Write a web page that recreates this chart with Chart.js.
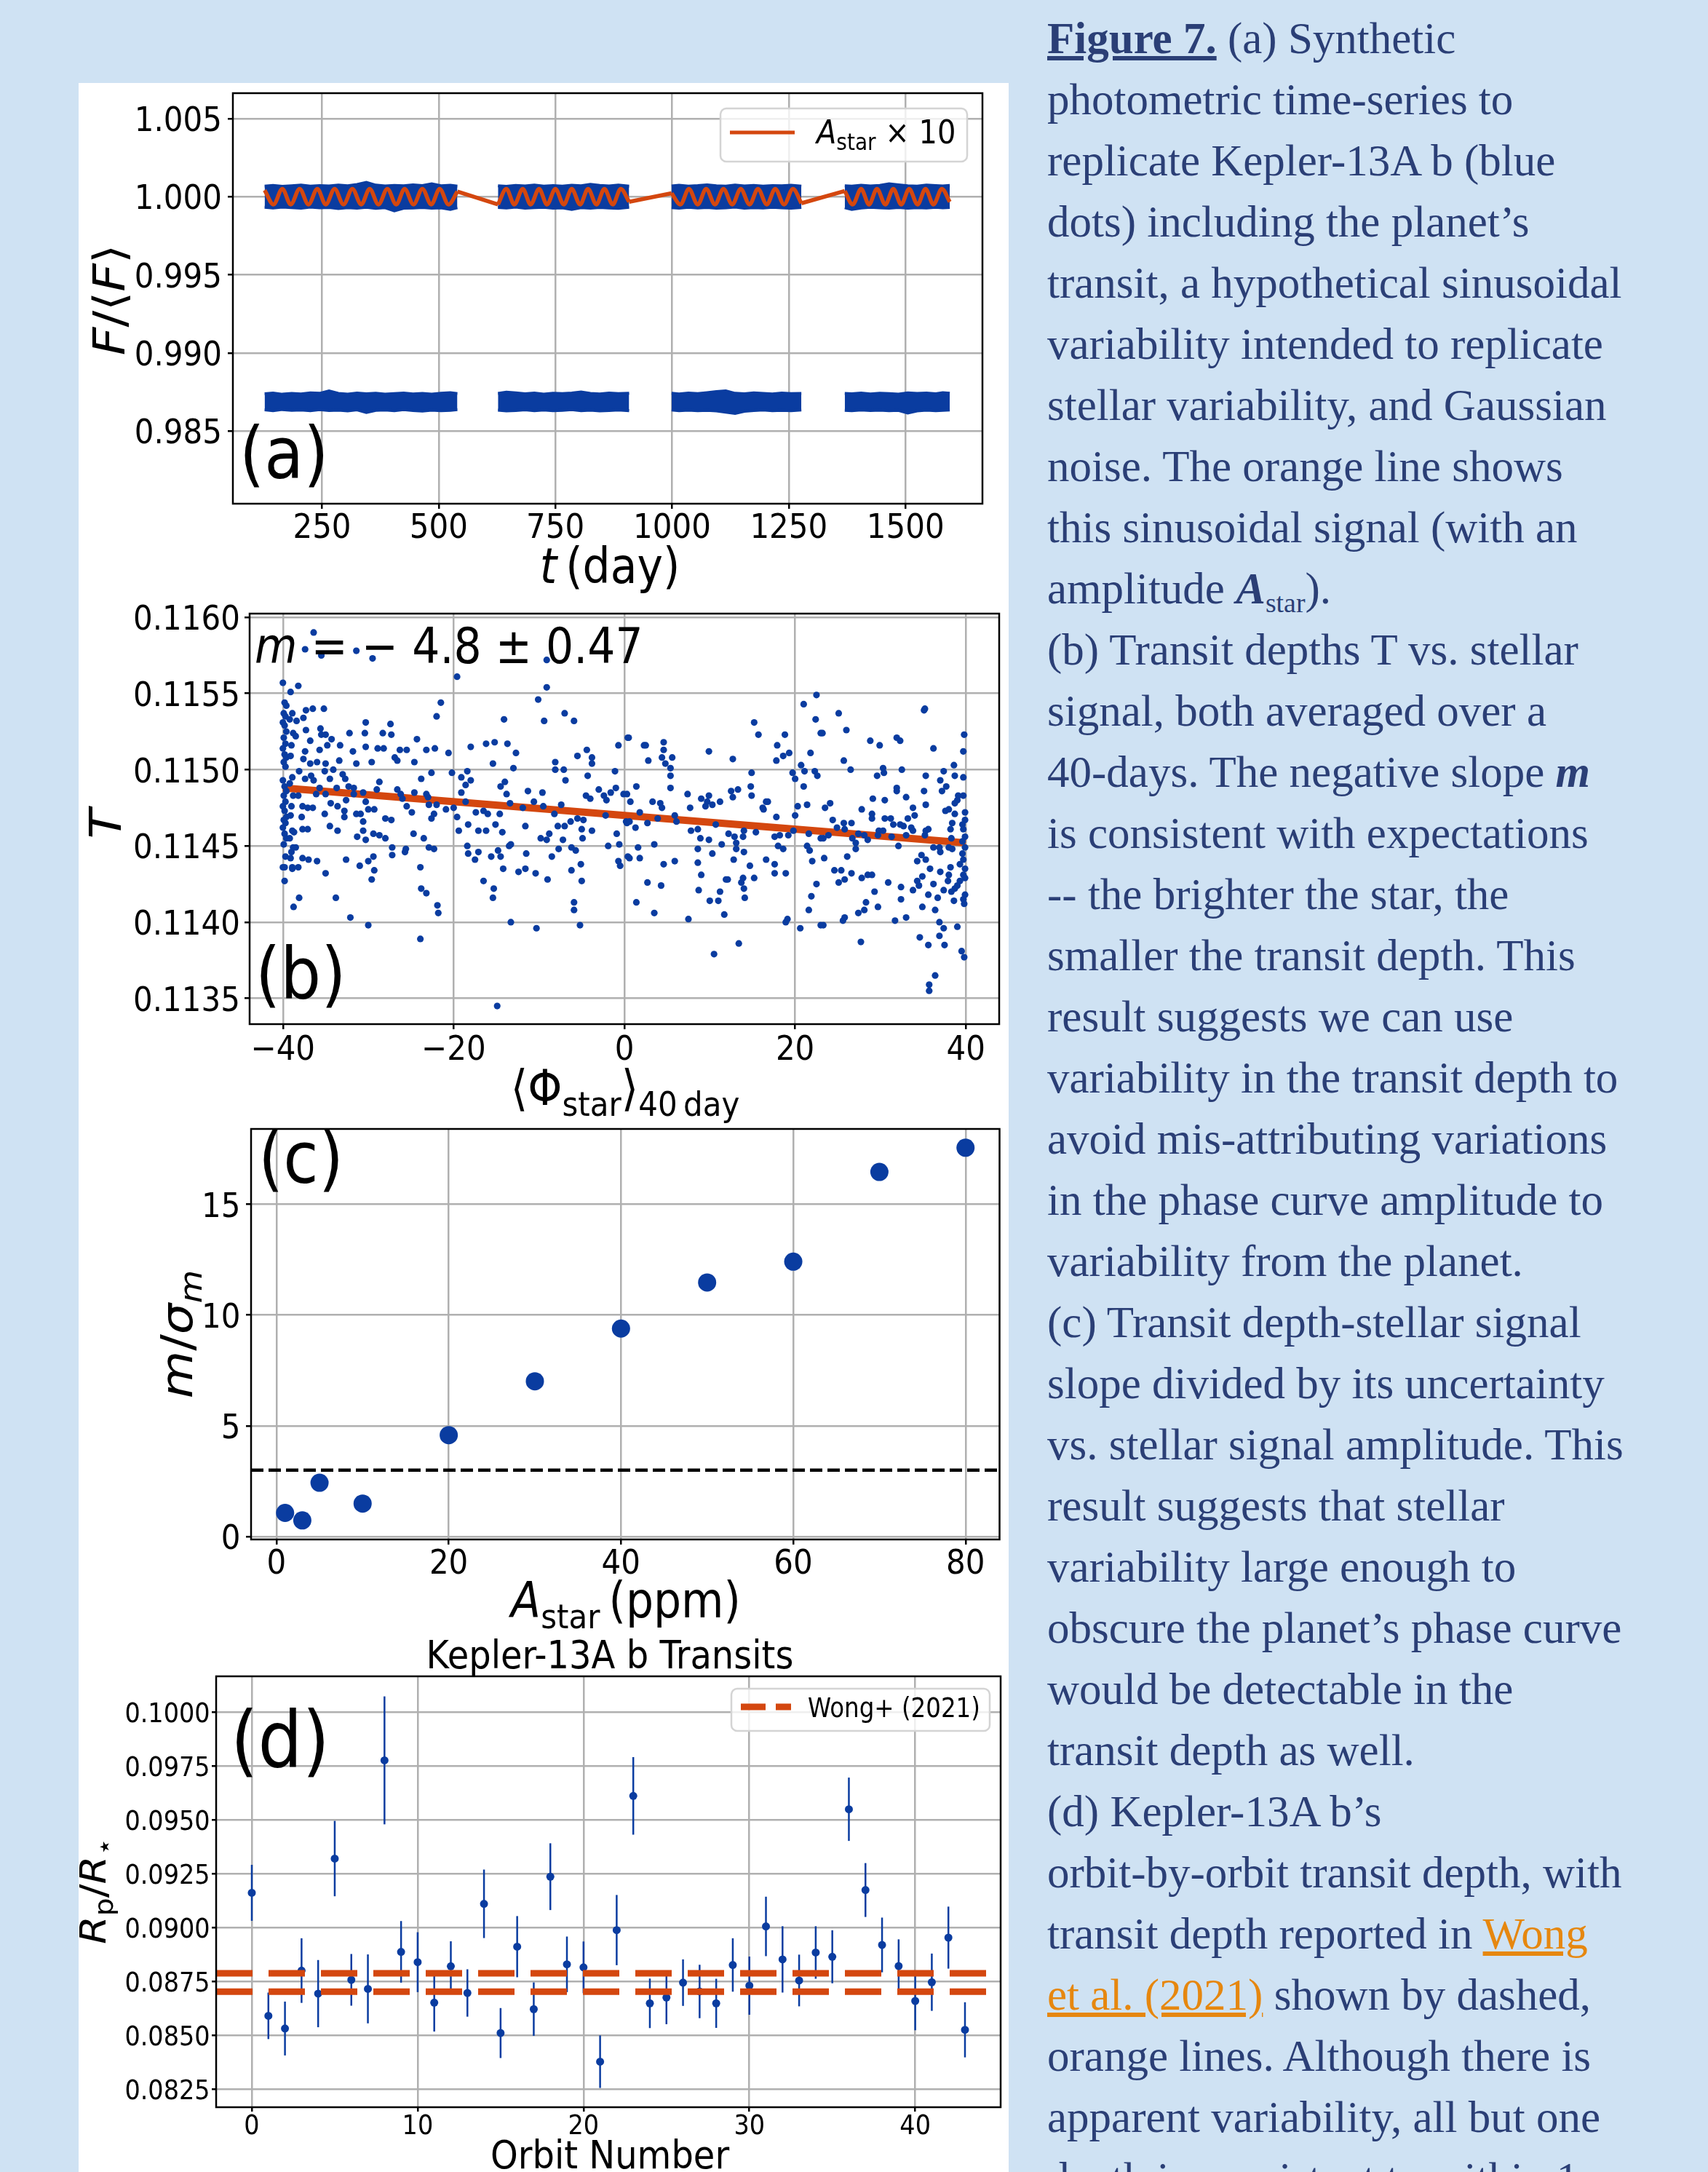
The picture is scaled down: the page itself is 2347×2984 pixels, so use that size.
<!DOCTYPE html>
<html>
<head>
<meta charset="utf-8">
<script src="https://cdn.jsdelivr.net/npm/chart.js@4.4.1/dist/chart.umd.min.js"></script>
<style>
  html, body { margin: 0; padding: 0; }
  body { width: 2347px; height: 2984px; overflow: hidden; background: #cfe2f3; position: relative; }
  #sheet { position: absolute; left: 108px; top: 114px; width: 1278px; height: 2870px; background: #fff; }
  canvas { position: absolute; }
  #caption { position: absolute; left: 1439px; top: 11px; font-family: 'Liberation Serif', 'Times New Roman', serif;
    font-size: 61px; line-height: 84px; color: #2b3f76; white-space: nowrap; }
  #caption .fig { font-weight: bold; text-decoration: underline; }
  #caption .sub { font-size: 0.62em; vertical-align: -0.32em; line-height: 0; }
  #caption .lnk { color: #e6870f; text-decoration: underline; }
</style>
</head>
<body>
<div id="sheet"></div>
<canvas id="panelA" width="1278" height="770" style="left:108px;top:60px"></canvas>
<canvas id="panelB" width="1278" height="760" style="left:108px;top:800px"></canvas>
<canvas id="panelC" width="1278" height="745" style="left:108px;top:1500px"></canvas>
<canvas id="panelD" width="1278" height="754" style="left:108px;top:2230px"></canvas>
<div id="caption"><span class="fig">Figure 7.</span> (a) Synthetic<br>photometric time-series to<br>replicate Kepler-13A b (blue<br>dots) including the planet’s<br>transit, a hypothetical sinusoidal<br>variability intended to replicate<br>stellar variability, and Gaussian<br>noise. The orange line shows<br>this sinusoidal signal (with an<br>amplitude <b><i>A</i></b><span class="sub">star</span>).<br>(b) Transit depths T vs. stellar<br>signal, both averaged over a<br>40-days. The negative slope <b><i>m</i></b><br>is consistent with expectations<br>-- the brighter the star, the<br>smaller the transit depth. This<br>result suggests we can use<br>variability in the transit depth to<br>avoid mis-attributing variations<br>in the phase curve amplitude to<br>variability from the planet.<br>(c) Transit depth-stellar signal<br>slope divided by its uncertainty<br>vs. stellar signal amplitude. This<br>result suggests that stellar<br>variability large enough to<br>obscure the planet’s phase curve<br>would be detectable in the<br>transit depth as well.<br>(d) Kepler-13A b’s<br>orbit-by-orbit transit depth, with<br>transit depth reported in <span class="lnk">Wong</span><br><span class="lnk">et al. (2021)</span> shown by dashed,<br>orange lines. Although there is<br>apparent variability, all but one<br>depth is consistent to within 1</div>
<script>
// ---------- (a) synthetic light curve ----------
// observing segments (days) and the edges of the blue photometry band
const segTimes = [
  [127, 145, 165, 185, 205, 225, 245, 265, 285, 305, 325, 345, 365, 385, 405, 425, 445, 465, 485, 505, 525, 540],
  [627, 645, 665, 685, 705, 725, 745, 765, 785, 805, 825, 845, 865, 885, 908],
  [999, 1015, 1035, 1055, 1075, 1095, 1115, 1135, 1155, 1175, 1195, 1215, 1235, 1255, 1277],
  [1370, 1385, 1405, 1425, 1445, 1465, 1485, 1505, 1525, 1545, 1565, 1580, 1595]
];
const fluxTop = [
  [1.00068, 1.00072, 1.00066, 1.00070, 1.00074, 1.00068, 1.00071, 1.00069, 1.00075, 1.00070, 1.00078, 1.00092, 1.00074, 1.00069, 1.00072, 1.00070, 1.00076, 1.00071, 1.00082, 1.00070, 1.00073, 1.00068],
  [1.00070, 1.00066, 1.00072, 1.00069, 1.00075, 1.00068, 1.00071, 1.00067, 1.00073, 1.00070, 1.00079, 1.00072, 1.00069, 1.00074, 1.00068],
  [1.00069, 1.00073, 1.00068, 1.00071, 1.00076, 1.00070, 1.00068, 1.00074, 1.00069, 1.00072, 1.00067, 1.00071, 1.00070, 1.00073, 1.00068],
  [1.00070, 1.00068, 1.00073, 1.00069, 1.00072, 1.00083, 1.00076, 1.00070, 1.00068, 1.00074, 1.00071, 1.00069, 1.00072]
];
const fluxBottom = [
  [0.99932, 0.99928, 0.99934, 0.99930, 0.99926, 0.99933, 0.99929, 0.99931, 0.99924, 0.99930, 0.99927, 0.99932, 0.99925, 0.99930, 0.99910, 0.99926, 0.99928, 0.99931, 0.99926, 0.99929, 0.99918, 0.99930],
  [0.99931, 0.99928, 0.99933, 0.99926, 0.99930, 0.99932, 0.99927, 0.99929, 0.99919, 0.99930, 0.99926, 0.99931, 0.99928, 0.99925, 0.99932],
  [0.99930, 0.99927, 0.99932, 0.99928, 0.99931, 0.99926, 0.99929, 0.99933, 0.99927, 0.99930, 0.99928, 0.99932, 0.99929, 0.99926, 0.99931],
  [0.99930, 0.99918, 0.99928, 0.99932, 0.99929, 0.99927, 0.99931, 0.99926, 0.99930, 0.99928, 0.99932, 0.99929, 0.99931]
];
const transitTop = [
  [0.98738, 0.98742, 0.98735, 0.98740, 0.98737, 0.98744, 0.98741, 0.98756, 0.98740, 0.98736, 0.98743, 0.98738, 0.98741, 0.98735, 0.98739, 0.98742, 0.98737, 0.98740, 0.98736, 0.98741, 0.98745, 0.98739],
  [0.98740, 0.98748, 0.98744, 0.98738, 0.98742, 0.98736, 0.98741, 0.98739, 0.98743, 0.98749, 0.98740, 0.98737, 0.98742, 0.98739, 0.98741],
  [0.98741, 0.98737, 0.98743, 0.98739, 0.98745, 0.98752, 0.98756, 0.98741, 0.98738, 0.98744, 0.98740, 0.98737, 0.98742, 0.98739, 0.98740],
  [0.98740, 0.98738, 0.98742, 0.98737, 0.98741, 0.98739, 0.98736, 0.98744, 0.98740, 0.98743, 0.98738, 0.98745, 0.98741]
];
const transitBottom = [
  [0.98635, 0.98630, 0.98637, 0.98632, 0.98634, 0.98629, 0.98636, 0.98631, 0.98633, 0.98628, 0.98635, 0.98618, 0.98632, 0.98634, 0.98630, 0.98636, 0.98631, 0.98627, 0.98633, 0.98630, 0.98632, 0.98636],
  [0.98633, 0.98628, 0.98631, 0.98635, 0.98630, 0.98634, 0.98629, 0.98632, 0.98636, 0.98630, 0.98633, 0.98628, 0.98631, 0.98634, 0.98630],
  [0.98634, 0.98630, 0.98633, 0.98629, 0.98632, 0.98628, 0.98620, 0.98612, 0.98626, 0.98631, 0.98634, 0.98629, 0.98632, 0.98630, 0.98634],
  [0.98632, 0.98630, 0.98634, 0.98631, 0.98633, 0.98629, 0.98632, 0.98615, 0.98628, 0.98633, 0.98630, 0.98632, 0.98634]
];
// turning points of the A_star x 10 sinusoid
const sineTimes = [
  [127, 146, 165, 183, 202, 221, 240, 258, 277, 296, 315, 334, 352, 371, 390, 409, 427, 446, 465, 484, 502, 521, 540],
  [627, 645, 662, 680, 697, 715, 732, 750, 768, 785, 803, 820, 838, 855, 873, 890, 908],
  [999, 1018, 1036, 1055, 1073, 1092, 1110, 1129, 1147, 1166, 1184, 1203, 1221, 1240, 1259, 1277],
  [1370, 1387, 1405, 1422, 1439, 1457, 1474, 1491, 1508, 1526, 1543, 1560, 1578, 1595]
];
const sineFlux = [
  [1.00042, 0.99950, 1.00050, 0.99950, 1.00050, 0.99950, 1.00050, 0.99950, 1.00050, 0.99950, 1.00050, 0.99950,
   1.00050, 0.99950, 1.00050, 0.99950, 1.00050, 0.99950, 1.00050, 0.99950, 1.00050, 0.99950, 1.00033],
  [0.99950, 1.00050, 0.99950, 1.00050, 0.99950, 1.00050, 0.99950, 1.00050, 0.99950, 1.00050, 0.99950, 1.00050,
   0.99950, 1.00050, 0.99950, 1.00050, 0.99967],
  [1.00022, 0.99950, 1.00050, 0.99950, 1.00050, 0.99950, 1.00050, 0.99950, 1.00050, 0.99950, 1.00050, 0.99950,
   1.00050, 0.99950, 1.00050, 0.99958],
  [1.00037, 0.99950, 1.00050, 0.99950, 1.00050, 0.99950, 1.00050, 0.99950, 1.00050, 0.99950, 1.00050, 0.99950,
   1.00050, 0.99967]
];
const timeRange = [59, 1665];
const fluxRange = [0.98034, 1.00663];
const timeTicks = [250, 500, 750, 1000, 1250, 1500];
const fluxTicks = [0.985, 0.990, 0.995, 1.000, 1.005];

// ---------- (b) transit depth vs 40-day mean stellar signal: [phi, T] ----------
const depthVsPhi = [
  [-40.0,.11557],[-39.8,.11544],[-39.6,.11542],[-39.9,.11537],[-39.7,.11535],[-40.0,.11531],[-39.8,.11529],[-39.6,.11525],
  [-39.9,.11521],[-39.7,.11517],[-40.0,.11514],[-39.8,.11510],[-39.6,.11508],[-39.9,.11505],[-39.7,.11502],[-40.0,.11493],
  [-39.8,.11489],[-39.6,.11486],[-39.9,.11483],[-39.7,.11479],[-40.0,.11476],[-39.8,.11473],[-39.6,.11469],[-39.9,.11467],
  [-39.7,.11465],[-40.0,.11462],[-39.8,.11458],[-39.6,.11455],[-39.9,.11451],[-39.7,.11443],[-40.0,.11436],[-39.8,.11427],
  [-39.1,.11551],[-38.9,.11537],[-39.2,.11533],[-38.8,.11524],[-39.0,.11516],[-39.1,.11509],[-38.9,.11495],[-39.2,.11491],
  [-38.8,.11483],[-39.0,.11476],[-39.1,.11470],[-38.9,.11460],[-39.2,.11455],[-38.8,.11449],[-39.0,.11446],[-39.1,.11442],
  [-38.9,.11435],[-38.75,.11410],
  [-36.4,.11590],[-37.4,.11579],[-35.5,.11575],[-31.4,.11578],[-29.5,.11573],
  [-38.2,.11555],[-37.3,.11539],[-36.5,.11540],[-35.2,.11540],[-37.6,.11534],[-38.4,.11532],[-38.5,.11522],[-37.3,.11526],
  [-36.8,.11519],[-35.6,.11527],[-35.5,.11523],[-35.0,.11523],[-34.3,.11520],[-34.8,.11516],[-35.7,.11513],[-37.4,.11512],
  [-37.6,.11507],[-36.8,.11504],[-36.0,.11505],[-35.0,.11504],[-34.1,.11500],[-33.4,.11506],[-33.3,.11516],[-32.2,.11524],
  [-31.8,.11512],[-31.4,.11504],[-30.3,.11531],[-30.4,.11524],[-30.3,.11515],[-29.6,.11505],[-28.9,.11514],[-28.3,.11524],
  [-28.2,.11514],[-27.4,.11530],[-27.3,.11523],[-26.9,.11508],[-26.3,.11513],[-26.6,.11506],[-25.5,.11513],[-24.6,.11505],
  [-24.3,.11520],[-23.2,.11513],[-22.2,.11514],[-22.0,.11535],[-21.5,.11544],[-22.6,.11498],[-23.8,.11494],[-38.1,.11499],
  [-37.4,.11494],[-36.7,.11496],[-36.4,.11493],[-35.1,.11499],[-34.5,.11494],[-33.0,.11497],[-32.7,.11494],[-32.3,.11489],
  [-31.7,.11488],[-30.6,.11485],[-30.3,.11479],[-29.0,.11487],[-28.7,.11492],[-26.6,.11487],[-26.2,.11484],[-26.0,.11481],
  [-24.6,.11485],[-23.2,.11484],[-23.0,.11482],[-22.0,.11477],[-38.2,.11483],[-37.7,.11476],[-37.1,.11475],[-36.5,.11475],
  [-36.1,.11484],[-35.7,.11488],[-35.0,.11484],[-34.4,.11478],[-33.7,.11488],[-33.6,.11476],[-32.8,.11473],[-32.6,.11480],
  [-31.7,.11484],[-31.4,.11471],[-30.9,.11471],[-30.6,.11466],[-30.0,.11474],[-29.3,.11474],[-28.0,.11468],[-27.3,.11467],
  [-25.5,.11476],[-24.9,.11472],[-22.9,.11477],[-22.6,.11468],[-22.3,.11471],[-37.8,.11469],[-37.7,.11461],[-37.1,.11461],
  [-38.7,.11459],[-35.1,.11471],[-34.5,.11463],[-33.6,.11460],[-32.8,.11469],[-31.3,.11456],[-30.6,.11460],[-30.3,.11454],
  [-29.4,.11458],[-28.7,.11457],[-28.0,.11455],[-27.2,.11449],[-27.2,.11444],[-25.6,.11448],[-25.7,.11446],[-24.7,.11458],
  [-23.5,.11455],[-22.9,.11449],[-22.3,.11448],[-38.5,.11449],[-37.7,.11442],[-37.0,.11441],[-36.0,.11440],[-32.6,.11441],
  [-31.0,.11437],[-30.0,.11440],[-29.4,.11443],[-29.3,.11434],[-29.6,.11428],[-35.0,.11432],[-23.9,.11436],[-23.8,.11422],
  [-23.2,.11419],[-21.9,.11411],[-21.8,.11406],[-33.8,.11416],[-38.1,.11416],[-32.1,.11403],[-30.0,.11398],[-23.9,.11389],
  [-39.8,.11436],[-38.9,.11436],[-38.2,.11436],
  [-9.1,.11572],[-19.6,.11561],[-9.1,.11554],[-10.1,.11546],[-7.0,.11537],[-14.1,.11533],[-9.4,.11532],[-5.9,.11532],
  [-20.6,.11511],[-18.0,.11515],[-16.2,.11517],[-15.2,.11518],[-13.7,.11517],[-12.7,.11511],[-15.4,.11504],[-13.0,.11501],
  [-20.2,.11498],[-19.1,.11495],[-18.4,.11499],[-18.0,.11493],[-18.6,.11490],[-19.1,.11485],[-18.6,.11479],[-20.0,.11475],
  [-20.9,.11474],[-19.6,.11469],[-19.4,.11460],[-18.3,.11464],[-17.4,.11472],[-16.5,.11473],[-16.0,.11471],[-17.1,.11460],
  [-16.2,.11460],[-15.1,.11464],[-14.6,.11471],[-14.3,.11459],[-14.0,.11492],[-14.5,.11489],[-13.8,.11484],[-13.4,.11478],
  [-11.9,.11475],[-11.3,.11486],[-10.6,.11479],[-9.6,.11485],[-9.5,.11476],[-8.2,.11471],[-7.4,.11477],[-8.1,.11505],
  [-8.1,.11500],[-7.1,.11500],[-6.9,.11493],[-5.5,.11509],[-4.4,.11513],[-3.8,.11508],[-3.8,.11504],[-4.3,.11496],
  [-4.5,.11483],[-4.0,.11481],[-3.0,.11487],[-2.4,.11483],[-2.1,.11480],[-1.6,.11485],[-1.1,.11499],[-1.0,.11488],
  [-0.7,.11516],[0.4,.11521],[-0.1,.11484],[-2.2,.11470],[-5.5,.11468],[-4.8,.11467],[-6.3,.11466],[-7.0,.11463],
  [-7.8,.11463],[-7.2,.11454],[-11.6,.11463],[-9.8,.11455],[-9.1,.11454],[-8.8,.11458],[-5.0,.11461],[-4.9,.11455],
  [-3.8,.11460],[-0.9,.11458],[-0.6,.11451],[-1.9,.11450],[0.2,.11466],[-13.5,.11450],[-13.3,.11451],[-18.4,.11450],
  [-18.3,.11445],[-17.5,.11441],[-17.1,.11446],[-15.6,.11443],[-14.8,.11447],[-14.5,.11443],[-11.5,.11445],[-8.5,.11443],
  [-7.7,.11448],[-6.2,.11449],[-5.7,.11447],[-5.1,.11438],[-6.2,.11434],[-5.0,.11427],[-9.0,.11428],[-10.4,.11432],
  [-11.6,.11435],[-12.4,.11433],[-14.2,.11435],[-16.5,.11427],[-15.3,.11422],[-15.4,.11416],[-13.3,.11400],[-10.3,.11396],
  [-5.9,.11413],[-5.9,.11408],[-5.2,.11398],[-0.7,.11440],[-0.5,.11437],[-14.9,.11345],
  [0.5,.11521],[2.3,.11516],[2.5,.11516],[2.8,.11506],[4.6,.11518],[4.6,.11513],[4.4,.11508],[4.8,.11504],
  [5.6,.11508],[5.4,.11501],[5.4,.11496],[5.4,.11488],[1.4,.11489],[0.3,.11484],[0.7,.11479],[0.3,.11465],
  [0.6,.11466],[1.3,.11462],[1.8,.11472],[2.7,.11465],[3.3,.11479],[4.2,.11478],[4.4,.11475],[3.9,.11468],
  [5.9,.11470],[6.1,.11466],[7.4,.11484],[7.7,.11475],[9.9,.11512],[12.7,.11507],[15.2,.11531],[15.7,.11523],
  [14.9,.11498],[14.8,.11489],[14.9,.11483],[12.5,.11486],[12.7,.11482],[13.3,.11487],[11.2,.11479],[9.9,.11483],
  [9.7,.11479],[9.0,.11481],[9.5,.11476],[10.3,.11477],[7.8,.11460],[8.6,.11461],[10.7,.11464],[8.9,.11455],
  [9.9,.11454],[12.2,.11458],[12.9,.11456],[13.9,.11456],[14.0,.11460],[15.4,.11459],[16.2,.11475],[16.8,.11479],
  [17.8,.11469],[17.6,.11456],[18.2,.11457],[18.0,.11450],[18.6,.11448],[19.2,.11457],[19.8,.11460],[20.0,.11470],
  [20.3,.11476],[21.4,.11477],[21.0,.11489],[20.7,.11503],[21.1,.11499],[19.7,.11498],[20.0,.11494],[22.3,.11499],
  [22.6,.11496],[21.8,.11511],[22.4,.11533],[21.0,.11543],[22.5,.11549],[23.0,.11524],[17.9,.11516],[18.8,.11523],
  [17.8,.11506],[18.6,.11509],[19.3,.11511],[21.6,.11458],[21.4,.11450],[21.7,.11447],[22.0,.11440],[23.0,.11455],
  [16.6,.11441],[17.6,.11438],[17.6,.11432],[18.9,.11432],[14.7,.11437],[15.2,.11429],[14.0,.11446],[13.1,.11452],
  [12.8,.11441],[13.1,.11448],[11.4,.11451],[10.3,.11445],[8.6,.11448],[8.6,.11439],[9.0,.11431],[8.7,.11421],
  [10.0,.11414],[11.0,.11414],[11.2,.11420],[11.7,.11405],[11.9,.11428],[12.1,.11428],[13.7,.11426],[13.9,.11429],
  [14.0,.11422],[14.1,.11416],[13.4,.11386],[10.5,.11379],[7.5,.11402],[19.1,.11402],[18.9,.11400],[20.6,.11396],
  [21.6,.11408],[21.9,.11417],[22.5,.11425],[23.0,.11398],[5.9,.11440],[4.6,.11438],[3.5,.11451],[1.8,.11442],
  [1.6,.11449],[0.6,.11442],[0.4,.11443],[2.7,.11426],[4.3,.11424],[1.4,.11413],[3.5,.11406],[16.6,.11479],[16.3,.11474],
  [23.2,.11524],[25.1,.11537],[26.0,.11526],[25.7,.11506],[26.5,.11500],[28.8,.11519],[29.9,.11516],[31.9,.11521],
  [32.3,.11519],[35.1,.11539],[35.2,.11540],[36.2,.11514],[39.8,.11523],[39.7,.11512],[38.6,.11503],[38.7,.11496],
  [39.7,.11495],[37.4,.11499],[37.0,.11493],[37.7,.11489],[37.2,.11486],[35.3,.11496],[35.1,.11486],[35.3,.11477],
  [32.5,.11500],[30.3,.11501],[29.6,.11496],[30.4,.11498],[31.9,.11486],[31.9,.11488],[33.0,.11482],[29.1,.11481],
  [30.5,.11480],[33.8,.11475],[34.0,.11470],[33.2,.11468],[32.3,.11464],[32.7,.11463],[33.6,.11462],[33.8,.11460],
  [31.5,.11464],[30.5,.11468],[31.2,.11468],[29.0,.11471],[29.0,.11468],[27.8,.11474],[29.8,.11460],[30.3,.11460],
  [29.7,.11457],[31.3,.11456],[28.1,.11457],[28.5,.11454],[26.6,.11465],[25.7,.11465],[25.8,.11461],[26.7,.11455],
  [27.1,.11452],[27.1,.11448],[27.4,.11458],[24.9,.11462],[24.4,.11467],[24.1,.11478],[23.5,.11475],[23.9,.11457],
  [23.3,.11455],[33.0,.11457],[32.1,.11450],[35.2,.11457],[35.3,.11460],[35.6,.11461],[36.2,.11449],[36.9,.11449],
  [37.0,.11446],[38.0,.11449],[38.4,.11448],[38.3,.11455],[38.2,.11461],[38.4,.11465],[38.7,.11471],[38.0,.11474],
  [37.6,.11473],[39.0,.11480],[38.7,.11478],[39.1,.11483],[39.7,.11483],[39.9,.11472],[39.9,.11467],[39.6,.11464],
  [39.7,.11461],[39.9,.11456],[39.6,.11453],[39.9,.11449],[39.6,.11445],[39.7,.11441],[39.3,.11438],[39.9,.11435],
  [39.7,.11431],[39.9,.11429],[39.3,.11427],[39.0,.11424],[38.7,.11422],[39.9,.11418],[39.7,.11415],[39.8,.11412],
  [38.6,.11414],[38.3,.11420],[37.4,.11421],[37.9,.11427],[38.0,.11431],[38.2,.11436],[37.0,.11433],[36.2,.11425],
  [35.8,.11435],[35.3,.11441],[34.3,.11440],[34.8,.11444],[34.9,.11430],[34.3,.11427],[34.5,.11424],[33.8,.11421],
  [35.6,.11418],[36.7,.11416],[36.4,.11408],[34.9,.11410],[32.4,.11423],[32.4,.11415],[33.0,.11403],[31.7,.11401],
  [30.9,.11426],[29.3,.11420],[29.7,.11410],[28.5,.11431],[29.0,.11431],[27.8,.11429],[28.3,.11413],[28.1,.11408],
  [27.4,.11406],[26.6,.11432],[25.8,.11428],[25.1,.11426],[24.6,.11434],[25.4,.11434],[26.1,.11443],[23.4,.11442],
  [23.3,.11398],[25.6,.11401],[25.8,.11403],[27.7,.11387],[34.6,.11390],[35.6,.11385],[36.9,.11400],[37.4,.11396],
  [36.9,.11391],[37.5,.11385],[39.0,.11397],[39.5,.11381],[39.8,.11377],[36.4,.11365],[35.7,.11359],[35.7,.11355]
];
const fitPhi = [-40, 40];
const fitDepth = [0.11488, 0.11452];
const phiRange = [-43.9, 43.9];
const depthRange = [0.113331, 0.116024];
const phiTicks = [-40, -20, 0, 20, 40];
const depthTicks = [0.1135, 0.1140, 0.1145, 0.1150, 0.1155, 0.1160];

// ---------- (c) slope significance vs stellar amplitude ----------
const ampStar = [1, 3, 5, 10, 20, 30, 40, 50, 60, 70, 80];
const slopeSignif = [1.07, 0.73, 2.43, 1.49, 4.58, 7.01, 9.39, 11.47, 12.41, 16.46, 17.55];
const signifLimit = 3;
const ampRange = [-2.95, 83.95];
const signifRange = [-0.13, 18.4];
const ampTicks = [0, 20, 40, 60, 80];
const signifTicks = [0, 5, 10, 15];

// ---------- (d) Kepler-13A b orbit-by-orbit Rp/R* ----------
const orbitNumber = [0, 1, 2, 3, 4, 5, 6, 7, 8, 9, 10, 11, 12, 13, 14, 15, 16, 17, 18, 19, 20, 21,
  22, 23, 24, 25, 26, 27, 28, 29, 30, 31, 32, 33, 34, 35, 36, 37, 38, 39, 40, 41, 42, 43];
const rpRatio = [0.09162, 0.08591, 0.08532, 0.08801, 0.08694, 0.09321, 0.08758, 0.08716, 0.09777, 0.08888, 0.08840,
  0.08652, 0.08821, 0.08697, 0.09111, 0.08511, 0.08912, 0.08622, 0.09237, 0.08830, 0.08816, 0.08378,
  0.08989, 0.09612, 0.08649, 0.08676, 0.08745, 0.08704, 0.08649, 0.08827, 0.08731, 0.09006, 0.08853,
  0.08755, 0.08885, 0.08865, 0.09550, 0.09175, 0.08920, 0.08822, 0.08660, 0.08747, 0.08954, 0.08526];
const rpError = [0.00130, 0.00108, 0.00125, 0.00150, 0.00156, 0.00175, 0.00120, 0.00160, 0.00297, 0.00143, 0.00139,
  0.00134, 0.00116, 0.00110, 0.00159, 0.00116, 0.00142, 0.00124, 0.00155, 0.00129, 0.00120, 0.00122,
  0.00163, 0.00180, 0.00115, 0.00124, 0.00108, 0.00124, 0.00114, 0.00124, 0.00135, 0.00138, 0.00154,
  0.00120, 0.00122, 0.00123, 0.00147, 0.00125, 0.00127, 0.00124, 0.00136, 0.00133, 0.00144, 0.00128];
const wongDepth = [0.08788, 0.08703];
const orbitRange = [-2.15, 45.15];
const rpRange = [0.081666, 0.101672];
const orbitTicks = [0, 10, 20, 30, 40];
const rpTicks = [0.0825, 0.0850, 0.0875, 0.0900, 0.0925, 0.0950, 0.0975, 0.1000];

// ---------- styling helpers ----------
const BLUE = '#0a3ca0';
const ORANGE = '#d4470f';
const GRID = '#b0b0b0';
const SANS = "'DejaVu Sans', sans-serif";
const MINUS = '\u2212';
const TEXT_SY = 1.12; // the source figure is slightly stretched vertically

const it = (t, s, dy) => ({ t, s, i: true, dy: dy || 0 });
const rm = (t, s, dy) => ({ t, s, i: false, dy: dy || 0 });
const signed = v => (v < 0 ? MINUS + Math.abs(v) : String(v));

function fontOf(p) { return (p.i ? 'italic ' : '') + p.s + 'px ' + SANS; }

function drawRich(ctx, parts, x, y, align, sx, sy) {
  const widths = parts.map(p => { ctx.font = fontOf(p); return ctx.measureText(p.t).width; });
  const total = widths.reduce((a, b) => a + b, 0);
  ctx.save();
  ctx.translate(x, y);
  ctx.scale(sx || 1, sy || 1);
  let cx = align === 'center' ? -total / 2 : (align === 'right' ? -total : 0);
  ctx.textAlign = 'left';
  ctx.textBaseline = 'alphabetic';
  parts.forEach((p, k) => { ctx.font = fontOf(p); ctx.fillText(p.t, cx, p.dy); cx += widths[k]; });
  ctx.restore();
}

function drawLegend(ctx, lg, off) {
  const x0 = lg.box[0] - off[0], y0 = lg.box[1] - off[1];
  const w = lg.box[2] - lg.box[0], h = lg.box[3] - lg.box[1];
  ctx.save();
  ctx.beginPath();
  ctx.roundRect(x0, y0, w, h, 8);
  ctx.fillStyle = 'rgba(255,255,255,0.8)';
  ctx.fill();
  ctx.strokeStyle = '#d4d4d4';
  ctx.lineWidth = 2.5;
  ctx.stroke();
  ctx.beginPath();
  ctx.setLineDash(lg.dash || []);
  ctx.strokeStyle = lg.color;
  ctx.lineWidth = lg.width;
  ctx.moveTo(lg.x0 - off[0], lg.y - off[1]);
  ctx.lineTo(lg.x1 - off[0], lg.y - off[1]);
  ctx.stroke();
  ctx.setLineDash([]);
  ctx.fillStyle = '#000';
  drawRich(ctx, lg.parts, lg.tx - off[0], lg.ty - off[1], 'left', 1, TEXT_SY);
  ctx.restore();
}

// page-coordinate text for each panel (tick labels, axis titles, panel letters, legends)
const DECOR = {
  panelA: {
    off: [108, 60],
    ticks: { size: 42, xMid: 721.5, yRight: 305, xFmt: v => String(v), yFmt: v => v.toFixed(3) },
    texts: [
      { x: 838, y: 801, align: 'center', parts: [it('t', 60), rm('\u2009(day)', 60)] },
      { x: 171, y: 412, rotate: true, parts: [it('F', 60), rm('/', 60), rm('\u27e8', 60), it('F', 60), rm('\u27e9', 60)] },
      { x: 329, y: 657, parts: [rm('(a)', 88)] }
    ],
    legend: { box: [990, 149, 1329, 222], x0: 1003, x1: 1092, y: 182, color: ORANGE, width: 5,
      tx: 1122, ty: 197, parts: [it('A', 40), rm('star', 28, 8), rm(' \u00d7 10', 40)] }
  },
  panelB: {
    off: [108, 800],
    ticks: { size: 42, xMid: 1439, yRight: 330, xFmt: signed, yFmt: v => v.toFixed(4) },
    texts: [
      { x: 166, y: 1132, rotate: true, parts: [it('T', 60)] },
      { x: 859, y: 1518, align: 'center', parts: [rm('\u27e8', 60), rm('\u03a6', 60), rm('star', 42, 13), rm('\u27e9', 60), rm('40\u2009day', 42, 13)] },
      { x: 350, y: 911, parts: [it('m', 60), rm(' = ' + MINUS + ' 4.8 \u00b1 0.47', 60)] },
      { x: 351, y: 1372, parts: [rm('(b)', 88)] }
    ]
  },
  panelC: {
    off: [108, 1500],
    ticks: { size: 42, xMid: 2145, yRight: 330.5, xFmt: v => String(v), yFmt: v => String(v) },
    texts: [
      { x: 264, y: 1833, rotate: true, parts: [it('m', 60), rm('/', 60), it('\u03c3', 60), it('m', 42, 13)] },
      { x: 860, y: 2222, align: 'center', parts: [it('A', 60), rm('star', 42, 13), rm('\u2009(ppm)', 60)] },
      { x: 355, y: 1625, parts: [rm('(c)', 88)] }
    ]
  },
  panelD: {
    off: [108, 2230],
    ticks: { size: 33.5, xMid: 2918.5, yRight: 288.6, xFmt: v => String(v), yFmt: v => v.toFixed(4) },
    texts: [
      { x: 838, y: 2292, align: 'center', parts: [rm('Kepler-13A b Transits', 48)] },
      { x: 145, y: 2598, rotate: true, parts: [it('R', 50), rm('p', 35, 10), rm('/', 50), it('R', 50), rm('\u22c6', 35, 10)] },
      { x: 838, y: 2979, align: 'center', parts: [rm('Orbit Number', 48)] },
      { x: 317, y: 2427, parts: [rm('(d)', 96)] }
    ],
    legend: { box: [1005, 2320, 1360, 2378], x0: 1018, x1: 1087, y: 2345, color: ORANGE, width: 9, dash: [34, 14],
      tx: 1110, ty: 2359, parts: [rm('Wong+ (2021)', 32.5)] }
  }
};

const decorPlugin = {
  id: 'decor',
  afterDraw(chart) {
    const spec = DECOR[chart.canvas.id];
    const ctx = chart.ctx, a = chart.chartArea, off = spec.off, tk = spec.ticks;
    ctx.save();
    ctx.strokeStyle = '#000';
    ctx.lineWidth = 2.5;
    ctx.strokeRect(a.left, a.top, a.right - a.left, a.bottom - a.top);
    ctx.fillStyle = '#000';
    // tick labels, placed with the chart's own scales
    const lift = 0.364 * tk.size * TEXT_SY;
    chart.scales.x.ticks.forEach(t => {
      const px = chart.scales.x.getPixelForValue(t.value);
      drawRich(ctx, [rm(tk.xFmt(t.value), tk.size)], px, tk.xMid - off[1] + lift, 'center', 1, TEXT_SY);
    });
    chart.scales.y.ticks.forEach(t => {
      const py = chart.scales.y.getPixelForValue(t.value);
      drawRich(ctx, [rm(tk.yFmt(t.value), tk.size)], tk.yRight - off[0], py + lift, 'right', 1, TEXT_SY);
    });
    spec.texts.forEach(tx => {
      if (tx.rotate) {
        ctx.save();
        ctx.translate(tx.x - off[0], tx.y - off[1]);
        ctx.rotate(-Math.PI / 2);
        drawRich(ctx, tx.parts, 0, 0, 'center', TEXT_SY, 1);
        ctx.restore();
      } else {
        drawRich(ctx, tx.parts, tx.x - off[0], tx.y - off[1], tx.align || 'left', 1, TEXT_SY);
      }
    });
    if (spec.legend) drawLegend(ctx, spec.legend, off);
    ctx.restore();
  }
};

// vertical error bars for panel (d), drawn under the markers
const errorBars = {
  id: 'errorBars',
  beforeDatasetsDraw(chart) {
    const ctx = chart.ctx, xs = chart.scales.x, ys = chart.scales.y;
    ctx.save();
    ctx.strokeStyle = BLUE;
    ctx.lineWidth = 2.5;
    orbitNumber.forEach((n, i) => {
      const px = xs.getPixelForValue(n);
      ctx.beginPath();
      ctx.moveTo(px, ys.getPixelForValue(rpRatio[i] - rpError[i]));
      ctx.lineTo(px, ys.getPixelForValue(rpRatio[i] + rpError[i]));
      ctx.stroke();
    });
    ctx.restore();
  }
};

function axis(o) {
  return {
    type: 'linear', min: o.range[0], max: o.range[1],
    afterBuildTicks: s => { s.ticks = o.ticks.map(v => ({ value: v })); },
    afterFit: s => { if (o.isX) s.height = o.fixed; else s.width = o.fixed; },
    grid: { color: GRID, lineWidth: 2.5, drawTicks: true, tickLength: o.tl, tickColor: '#000', tickWidth: 2.5 },
    border: { display: false },
    ticks: { display: false }
  };
}

function makeChart(id, datasets, scales, pad, extra) {
  return new Chart(document.getElementById(id), {
    type: 'line',
    data: { datasets },
    options: {
      responsive: false, animation: false, devicePixelRatio: 1, events: [],
      layout: { padding: pad },
      scales,
      plugins: { legend: { display: false }, tooltip: { enabled: false } }
    },
    plugins: [decorPlugin].concat(extra || [])
  });
}

// ---------- panel (a) ----------
const sinePts = [], joinPts = [];
sineTimes.forEach((ts, s) => {
  const last = ts.length - 1;
  ts.forEach((t, i) => sinePts.push({ x: t, y: sineFlux[s][i] }));
  sinePts.push({ x: ts[last] + 1, y: null });
  if (s < sineTimes.length - 1) {
    joinPts.push({ x: ts[last], y: sineFlux[s][last] });
    joinPts.push({ x: sineTimes[s + 1][0], y: sineFlux[s + 1][0] });
    joinPts.push({ x: sineTimes[s + 1][0] + 1, y: null });
  }
});
const datasetsA = [
  { data: sinePts, borderColor: ORANGE, borderWidth: 5.5, pointRadius: 0, cubicInterpolationMode: 'monotone', spanGaps: false, fill: false },
  { data: joinPts, borderColor: ORANGE, borderWidth: 5.5, pointRadius: 0, tension: 0, spanGaps: false, fill: false }
];
segTimes.forEach((ts, s) => {
  [[fluxTop, fluxBottom], [transitTop, transitBottom]].forEach(([hi, lo]) => {
    datasetsA.push({ data: ts.map((t, i) => ({ x: t, y: hi[s][i] })), borderColor: BLUE, borderWidth: 4, pointRadius: 0, tension: 0, fill: false });
    datasetsA.push({ data: ts.map((t, i) => ({ x: t, y: lo[s][i] })), borderColor: BLUE, borderWidth: 4, pointRadius: 0, tension: 0,
      fill: '-1', backgroundColor: BLUE });
  });
});
makeChart('panelA', datasetsA, {
  x: axis({ range: timeRange, ticks: timeTicks, fixed: 138, tl: 7, isX: true }),
  y: axis({ range: fluxRange, ticks: fluxTicks, fixed: 212, tl: 7, isX: false })
}, { top: 68, right: 36, left: 0, bottom: 0 });

// ---------- panel (b) ----------
makeChart('panelB', [
  { data: depthVsPhi.map(p => ({ x: p[0], y: p[1] })), showLine: false, pointRadius: 4.6, pointBackgroundColor: BLUE, pointBorderWidth: 0 },
  { data: fitPhi.map((x, i) => ({ x, y: fitDepth[i] })), borderColor: ORANGE, borderWidth: 10, pointRadius: 0, fill: false }
], {
  x: axis({ range: phiRange, ticks: phiTicks, fixed: 153, tl: 7, isX: true }),
  y: axis({ range: depthRange, ticks: depthTicks, fixed: 235, tl: 7, isX: false })
}, { top: 43, right: 13, left: 0, bottom: 0 });

// ---------- panel (c) ----------
makeChart('panelC', [
  { data: ampStar.map((a, i) => ({ x: a, y: slopeSignif[i] })), showLine: false, pointRadius: 12.5, pointBackgroundColor: BLUE, pointBorderWidth: 0 },
  { data: ampRange.map(x => ({ x, y: signifLimit })), borderColor: '#000', borderWidth: 4.5, borderDash: [17, 7], pointRadius: 0, fill: false }
], {
  x: axis({ range: ampRange, ticks: ampTicks, fixed: 130, tl: 7, isX: true }),
  y: axis({ range: signifRange, ticks: signifTicks, fixed: 237, tl: 7, isX: false })
}, { top: 51, right: 11, left: 0, bottom: 0 });

// ---------- panel (d) ----------
makeChart('panelD', [
  { data: orbitRange.map(x => ({ x, y: wongDepth[0] })), borderColor: ORANGE, borderWidth: 9, borderDash: [50, 22], pointRadius: 0, fill: false },
  { data: orbitRange.map(x => ({ x, y: wongDepth[1] })), borderColor: ORANGE, borderWidth: 9, borderDash: [50, 22], pointRadius: 0, fill: false },
  { data: orbitNumber.map((n, i) => ({ x: n, y: rpRatio[i] })), showLine: false, pointRadius: 5.5, pointBackgroundColor: BLUE, pointBorderWidth: 0 }
], {
  x: axis({ range: orbitRange, ticks: orbitTicks, fixed: 89, tl: 6, isX: true }),
  y: axis({ range: rpRange, ticks: rpTicks, fixed: 189, tl: 6, isX: false })
}, { top: 73, right: 11, left: 0, bottom: 0 }, [errorBars]);
</script>
</body>
</html>
